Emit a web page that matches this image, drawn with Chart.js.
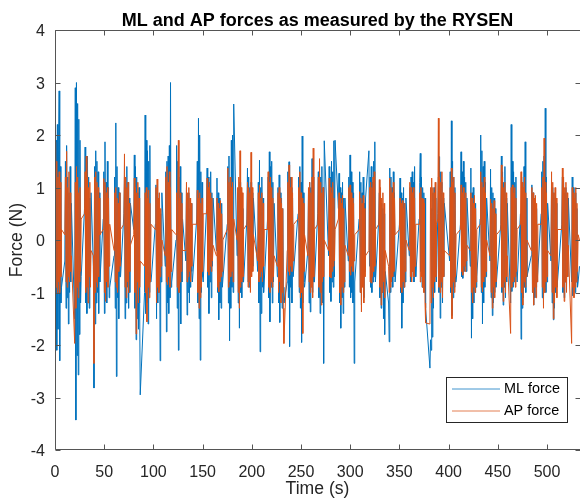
<!DOCTYPE html>
<html>
<head>
<meta charset="utf-8">
<script src="https://cdn.jsdelivr.net/npm/chart.js@4/dist/chart.umd.min.js"></script>
<style>
  html, body { margin: 0; padding: 0; background: #fff; }
  #wrap { width: 580px; height: 499px; }
</style>
</head>
<body>
<div id="wrap"><canvas id="c" width="580" height="499"></canvas></div>
<script>
// ---- Data ----
const chartTitle = 'ML and AP forces as measured by the RYSEN';
const xLabel = 'Time (s)';
const yLabel = 'Force (N)';
const seriesNames = ['ML force', 'AP force'];
const xTicks = [0, 50, 100, 150, 200, 250, 300, 350, 400, 450, 500];
const yTicks = [-4, -3, -2, -1, 0, 1, 2, 3, 4];

const time = [
0,0.6,1.2,1.8,2.4,3,3.6,4.2,4.8,5.4,6,6.6,
10,10.6,11.2,11.8,12.4,13,13.6,14.2,14.8,15.4,16,16.6,
20,20.6,21.2,21.8,22.4,23,23.6,24.2,24.8,25.4,26,26.6,
30,30.6,31.2,31.8,32.4,33,33.6,34.2,34.8,35.4,36,36.6,
39,39.6,40.2,40.8,41.4,42,42.6,43.2,43.8,44.4,45,45.6,
49,49.6,50.2,50.8,51.4,52,52.6,53.2,53.8,54.4,55,55.6,
60,60.6,61.2,61.8,62.4,63,63.6,64.2,64.8,65.4,66,66.6,
70,70.6,71.2,71.8,72.4,73,73.6,74.2,74.8,75.4,76,76.6,
80,80.6,81.2,81.8,82.4,83,83.6,84.2,84.8,85.4,86,86.6,
91,91.6,92.2,92.8,93.4,94,94.6,95.2,95.8,96.4,97,97.6,
102,102.6,103.2,103.8,104.4,105,105.6,106.2,106.8,107.4,108,108.6,
112,112.6,113.2,113.8,114.4,115,115.6,116.2,116.8,117.4,118,118.6,
123,123.6,124.2,124.8,125.4,126,126.6,127.2,127.8,128.4,129,129.6,
133,133.6,134.2,134.8,135.4,136,136.6,137.2,137.8,138.4,139,139.6,
144,144.6,145.2,145.8,146.4,147,147.6,148.2,148.8,149.4,150,150.6,
154,154.6,155.2,155.8,156.4,157,157.6,158.2,158.8,159.4,160,160.6,
164,164.6,165.2,165.8,166.4,167,167.6,168.2,168.8,169.4,170,170.6,
175,175.6,176.2,176.8,177.4,178,178.6,179.2,179.8,180.4,181,181.6,
185,185.6,186.2,186.8,187.4,188,188.6,189.2,189.8,190.4,191,191.6,
195,195.6,196.2,196.8,197.4,198,198.6,199.2,199.8,200.4,201,201.6,
206,206.6,207.2,207.8,208.4,209,209.6,210.2,210.8,211.4,212,212.6,
216,216.6,217.2,217.8,218.4,219,219.6,220.2,220.8,221.4,222,222.6,
226,226.6,227.2,227.8,228.4,229,229.6,230.2,230.8,231.4,232,232.6,
236,236.6,237.2,237.8,238.4,239,239.6,240.2,240.8,241.4,242,242.6,
247,247.6,248.2,248.8,249.4,250,250.6,251.2,251.8,252.4,253,253.6,
257,257.6,258.2,258.8,259.4,260,260.6,261.2,261.8,262.4,263,263.6,
267,267.6,268.2,268.8,269.4,270,270.6,271.2,271.8,272.4,273,273.6,
278,278.6,279.2,279.8,280.4,281,281.6,282.2,282.8,283.4,284,284.6,
288,288.6,289.2,289.8,290.4,291,291.6,292.2,292.8,293.4,294,294.6,
298,298.6,299.2,299.8,300.4,301,301.6,302.2,302.8,303.4,304,304.6,
309,309.6,310.2,310.8,311.4,312,312.6,313.2,313.8,314.4,315,315.6,
319,319.6,320.2,320.8,321.4,322,322.6,323.2,323.8,324.4,325,325.6,
329,329.6,330.2,330.8,331.4,332,332.6,333.2,333.8,334.4,335,335.6,
339,339.6,340.2,340.8,341.4,342,342.6,343.2,343.8,344.4,345,345.6,
350,350.6,351.2,351.8,352.4,353,353.6,354.2,354.8,355.4,356,356.6,
360,360.6,361.2,361.8,362.4,363,363.6,364.2,364.8,365.4,366,366.6,
370,370.6,371.2,371.8,372.4,373,373.6,374.2,374.8,375.4,376,376.6,
381,381.6,382.2,382.8,383.4,384,384.6,385.2,385.8,386.4,387,387.6,
389,389.6,390.2,390.8,391.4,392,392.6,393.2,393.8,394.4,395,395.6,
401,401.6,402.2,402.8,403.4,404,404.6,405.2,405.8,406.4,407,407.6,
412,412.6,413.2,413.8,414.4,415,415.6,416.2,416.8,417.4,418,418.6,
422,422.6,423.2,423.8,424.4,425,425.6,426.2,426.8,427.4,428,428.6,
432,432.6,433.2,433.8,434.4,435,435.6,436.2,436.8,437.4,438,438.6,
442,442.6,443.2,443.8,444.4,445,445.6,446.2,446.8,447.4,448,448.6,
453,453.6,454.2,454.8,455.4,456,456.6,457.2,457.8,458.4,459,459.6,
463,463.6,464.2,464.8,465.4,466,466.6,467.2,467.8,468.4,469,469.6,
473,473.6,474.2,474.8,475.4,476,476.6,477.2,477.8,478.4,479,479.6,
484,484.6,485.2,485.8,486.4,487,487.6,488.2,488.8,489.4,490,490.6,
494,494.6,495.2,495.8,496.4,497,497.6,498.2,498.8,499.4,500,500.6,
504,504.6,505.2,505.8,506.4,507,507.6,508.2,508.8,509.4,510,510.6,
515,515.6,516.2,516.8,517.4,518,518.6,519.2,519.8,520.4,521,521.6,
525,525.6,526.2,526.8,527.4,528,528.6,529.2,529.8,530.4,531,531.6,
533
];

const mlForce = [
0.5,-1.8,1.9,-2.1,2.2,-1.7,1.6,2.84,-2.3,1.4,-1.2,-0.9,
-0.4,1.5,-1.3,1.8,-1.1,1.2,-1.6,0.9,-1.0,1.4,-0.8,0.7,
-1.5,2.9,-3.43,3.0,-2.2,2.6,-2.57,2.3,-1.8,1.9,-1.2,-0.7,
0.6,1.77,-1.2,1.4,-1.4,1.6,-0.9,1.2,-1.3,0.8,-0.6,0.9,
-0.5,-2.82,1.4,-1.6,1.7,-1.2,1.5,-1.0,1.3,-1.4,0.9,-0.8,
0.4,1.3,-1.4,1.87,-1.0,1.1,-1.2,1.5,-0.8,1.0,-1.1,-0.9,
-0.3,1.2,-1.3,2.23,-2.6,1.4,-1.1,1.0,-1.5,0.9,-0.7,-0.7,
0.5,1.2,-1.5,1.0,-1.2,1.4,-0.9,1.1,-1.3,0.8,-1.0,0.7,
0.2,1.62,-1.3,1.4,-1.9,1.2,-1.5,0.9,-1.7,1.0,-1.2,-2.95,
-1.0,2.38,-1.4,1.9,-1.2,1.7,-1.6,1.5,-1.0,1.8,-0.8,-0.8,
0.3,1.05,-1.5,0.9,-1.2,0.8,-1.0,0.7,-2.3,0.5,-0.8,0.9,
-0.5,1.3,-1.75,1.5,-1.2,1.6,-1.4,1.8,-1.1,3.0,-0.9,-0.8,
0.0,1.8,-1.3,1.5,-2.1,1.2,-1.0,1.4,-1.6,0.9,-0.8,0.4,
-0.4,1.0,-1.43,0.8,-1.0,0.9,-1.2,0.6,-0.9,0.7,-0.6,-0.8,
0.4,1.5,-1.2,2.32,-1.5,2.0,-2.29,1.3,-1.0,1.1,-0.7,-0.8,
0.6,1.37,-0.9,1.2,-1.4,1.0,-0.8,1.3,-1.1,0.9,-0.5,0.8,
-0.2,1.18,-1.0,0.9,-1.52,0.8,-1.2,0.6,-1.3,0.7,-0.9,-0.9,
0.3,1.4,-1.2,1.6,-1.92,1.0,-1.3,1.9,-0.9,2.0,-1.0,2.59,
-0.3,0.9,-1.2,1.0,-1.68,1.1,-1.0,0.8,-1.1,0.6,-0.8,-0.8,
0.4,1.37,-0.8,1.2,-0.9,1.0,-0.7,1.1,-0.6,0.9,-0.5,0.8,
-0.6,1.1,-1.2,1.52,-2.13,1.0,-1.4,1.2,-0.9,0.8,-1.0,-0.8,
0.4,1.2,-1.1,1.68,-1.56,1.4,-0.9,1.5,-1.2,1.1,-0.8,0.7,
-0.7,1.0,-1.2,1.24,-1.57,0.9,-1.0,0.8,-1.3,0.6,-0.9,-1.2,
-0.8,1.3,-1.1,1.49,-2.03,1.2,-0.9,1.0,-1.2,0.8,-0.7,-0.7,
0.5,1.2,-1.0,1.4,-1.3,1.1,-1.95,1.98,-1.2,0.9,-0.8,-0.9,
-0.2,0.9,-1.2,1.1,-1.37,1.0,-0.9,1.55,-1.0,1.2,-0.8,-0.8,
0.5,1.3,-1.1,1.5,-1.4,1.2,-1.0,1.4,-1.2,1.0,-2.35,1.89,
-0.3,1.4,-1.0,1.2,-1.17,1.5,-0.8,1.3,-0.9,1.89,-0.7,1.9,
0.6,1.27,-1.2,1.0,-1.68,0.9,-1.1,1.1,-1.4,0.8,-0.9,0.8,
-0.4,1.2,-0.9,1.62,-1.1,1.3,-1.0,1.1,-1.2,0.9,-2.35,-0.8,
0.4,1.3,-1.0,1.1,-1.24,0.9,-0.8,1.2,-1.1,0.7,-0.6,0.8,
1.7,-0.5,1.2,-0.9,1.4,-1.0,1.1,-0.8,1.5,-0.7,1.87,-0.8,
0.4,0.9,-1.1,0.8,-1.3,0.7,-1.0,0.6,-1.5,0.5,-1.8,-0.6,
-1.2,-1.94,1.37,-1.0,1.2,-0.8,1.0,-0.9,1.3,-0.7,0.9,-0.8,
0.3,1.18,-1.0,0.9,-1.68,0.8,-1.2,1.0,-0.9,0.7,-0.8,0.8,
-0.3,1.0,-0.8,1.2,-0.7,1.3,-0.6,1.1,-0.8,1.4,-0.5,-0.7,
0.4,1.1,1.65,-0.6,1.2,-0.9,1.0,-0.7,0.9,-1.0,0.8,-1.3,
-2.44,-1.9,-2.1,0.6,-1.85,0.9,-1.3,1.0,-1.0,0.8,-0.6,-0.8,
0.5,1.2,-1.0,1.59,-1.49,1.3,-0.9,1.1,-1.2,0.8,-0.7,0.7,
-0.4,1.3,-1.0,2.27,-1.44,1.5,-1.1,1.2,-0.9,1.0,-0.8,-0.8,
0.3,1.68,-0.7,1.3,-0.73,1.5,-0.6,1.2,-0.5,1.1,-0.6,0.8,
-0.5,1.37,-1.87,0.9,-1.5,1.0,-1.2,0.8,-1.0,0.7,-0.9,-0.7,
0.4,2.0,-1.0,1.7,-1.6,1.4,-1.2,1.5,-0.9,1.1,-0.7,0.8,
-0.4,1.35,-1.1,1.0,-1.44,0.9,-1.2,0.8,-1.0,0.6,-0.9,-0.8,
0.3,1.6,-1.0,1.3,-1.24,1.1,-0.9,1.4,-1.1,0.8,-0.8,0.7,
-1.2,2.2,-0.98,1.5,-0.9,1.3,-0.8,1.1,-0.7,1.2,-0.6,-0.8,
0.5,-1.89,1.2,-1.3,1.0,-1.1,1.4,-0.9,1.87,-1.0,0.8,-0.7,
-0.3,1.05,-1.0,0.9,-1.24,0.8,-1.1,0.7,-0.9,0.6,-0.8,-0.8,
0.5,1.3,-1.1,1.5,-1.24,1.6,-0.9,2.51,-1.0,1.2,-0.8,0.7,
-0.4,1.1,-1.2,1.0,-1.52,0.9,-1.3,0.8,-1.0,0.7,-0.9,-0.8,
0.3,1.2,-1.0,1.1,-1.1,0.9,-0.8,1.0,-0.9,0.8,-0.7,0.8,
-0.8,1.2,-1.06,1.0,-0.9,0.8,-1.0,0.9,-0.8,0.6,-0.9,-0.8,
-0.5
];

const apForce = [
0.3,1.87,-0.9,1.5,-1.0,1.2,-0.8,1.3,-1.0,1.1,-0.7,0.2,
0.1,1.2,-0.8,1.69,-0.9,1.0,-0.7,1.3,-0.8,0.9,-0.6,-0.3,
-1.97,1.1,-1.3,1.4,-0.9,1.2,-1.1,0.9,-0.8,1.0,-0.6,0.4,
0.5,1.3,-1.0,1.6,-0.9,1.2,-1.2,1.0,-0.7,1.1,-0.9,-0.2,
-0.3,-2.35,1.2,-1.0,1.3,-0.8,1.1,-0.9,1.0,-0.7,0.8,0.1,
0.2,1.17,-1.0,1.1,-1.17,0.9,-0.8,1.0,-0.9,0.8,-0.5,0.3,
-0.2,0.9,-0.8,1.0,-0.9,0.8,-1.0,0.7,-0.6,0.9,-0.5,0.2,
0.3,1.64,-0.9,1.2,-1.1,1.0,-0.8,1.1,-1.0,0.7,-0.6,-0.1,
0.1,1.18,-1.0,1.0,-1.79,0.9,-0.8,1.1,-1.2,0.8,-0.9,-0.4,
-0.5,0.9,-1.0,1.0,-1.56,0.8,-0.9,0.95,-1.1,0.7,-0.8,0.3,
0.2,1.0,-1.2,1.16,-0.9,0.8,-1.0,0.9,-0.7,0.6,-0.5,0.0,
-0.3,1.2,-0.8,1.4,-0.85,1.1,-0.7,1.3,-0.9,1.0,-0.6,0.2,
0.1,0.9,-0.9,1.0,1.9,-1.0,0.8,-0.8,0.9,-0.6,0.7,-0.2,
-0.2,1.1,-0.8,0.9,-0.7,1.0,-0.6,0.8,-0.8,0.7,-0.5,0.3,
0.3,0.95,-1.0,0.8,-1.3,0.9,-1.1,0.7,-0.9,0.8,-0.6,0.5,
0.5,1.18,-0.6,1.0,-0.67,1.1,-0.5,0.9,-0.6,0.8,-0.4,-0.1,
-0.3,0.8,-0.9,0.7,-0.99,0.6,-0.8,0.75,-0.7,0.5,-0.6,0.0,
0.2,1.37,-0.9,1.1,-0.8,1.2,-0.7,1.0,-0.6,1.1,-0.8,0.4,
0.0,1.0,-1.0,1.2,-1.3,1.7,-0.9,1.0,-0.8,0.9,-0.7,0.2,
0.3,1.1,-0.9,1.0,-0.8,0.9,-1.0,1.67,-0.7,1.0,-0.6,0.1,
-0.4,0.9,-0.8,1.05,-0.7,0.8,-0.6,0.9,-0.8,0.7,-0.5,0.2,
0.2,1.3,-0.9,1.1,-1.0,1.2,-0.8,1.0,-0.9,0.8,-0.7,-0.3,
-0.5,0.9,-1.0,1.0,-0.8,0.8,-1.2,0.7,-1.0,0.6,-1.3,-1.97,
-0.2,1.1,-0.6,1.43,-0.67,1.0,-0.5,1.2,-0.6,0.9,-0.4,0.3,
0.4,1.0,-0.9,1.3,-1.1,0.9,-1.0,0.8,-1.78,0.7,-0.6,0.1,
-0.3,1.0,-0.8,1.1,-1.0,0.9,-0.9,1.2,-1.1,1.75,-0.7,0.2,
0.3,1.2,-0.9,1.55,-1.0,1.1,-1.24,0.9,-0.8,1.0,-0.7,0.0,
-0.2,1.18,-0.7,1.0,-0.72,0.9,-0.6,1.1,-0.5,0.8,-0.4,0.2,
0.4,0.9,-1.0,0.8,-1.24,0.7,-0.9,0.85,-1.0,0.6,-0.8,-0.1,
-0.3,1.0,-0.6,1.05,-0.67,0.9,-0.5,0.8,-0.6,0.7,-0.4,0.1,
0.2,0.92,-1.0,0.8,-1.37,0.7,-0.9,0.85,-1.2,0.6,-0.7,-0.3,
-0.2,1.0,-0.8,1.1,-0.82,1.0,-0.7,1.2,-0.6,1.3,-0.5,0.2,
0.3,1.15,-0.9,1.0,-1.24,0.8,-1.0,0.9,-0.8,0.7,-1.1,-0.2,
-0.5,-1.0,1.18,-0.9,1.0,-0.8,0.9,-0.7,1.1,-0.6,0.8,0.1,
0.2,0.8,-0.9,0.7,-1.0,0.75,-0.8,0.6,-0.9,0.7,-0.6,0.0,
-0.2,1.1,-0.7,1.0,-0.8,0.9,-0.6,1.0,-0.7,0.8,-0.5,0.3,
0.3,0.9,-0.8,1.0,-0.7,0.8,-0.9,0.78,-1.0,0.7,-1.2,-1.58,
-1.6,1.0,-1.2,1.18,-0.9,1.0,-1.1,0.9,-0.8,1.1,-0.7,0.3,
0.4,2.32,-0.9,1.2,-1.0,1.1,-0.8,1.3,-1.1,0.9,-0.7,-0.2,
-0.3,1.0,-0.9,1.37,-1.5,1.1,-0.8,1.2,-1.0,0.9,-0.7,0.1,
0.2,1.05,-0.6,0.9,-0.67,1.0,-0.5,0.8,-0.6,0.9,-0.4,-0.1,
-0.2,0.9,-1.0,0.8,-1.2,0.7,-0.9,0.85,-1.0,0.6,-0.8,0.2,
0.3,1.3,-0.9,1.1,-0.99,1.0,-0.8,1.2,-0.7,0.9,-0.6,0.0,
-0.3,0.78,-1.0,0.7,-1.3,0.6,-0.9,0.75,-1.1,0.5,-0.8,0.1,
0.2,1.43,-0.9,1.2,-1.17,1.0,-0.8,1.1,-1.0,0.9,-0.7,-0.3,
-1.78,1.0,-0.9,1.05,-0.8,0.9,-0.7,1.0,-0.9,0.8,-0.6,0.2,
0.3,1.3,-1.0,1.1,-1.24,1.0,-0.8,1.2,-0.9,0.9,-0.7,0.0,
-0.2,1.0,-1.0,0.9,-1.24,0.8,-0.9,0.85,-1.1,0.7,-0.8,0.3,
0.3,1.0,-0.9,1.2,-1.3,1.94,-1.0,1.1,-0.8,0.9,-0.7,-0.2,
-0.3,1.3,-1.0,1.1,-1.5,0.9,-1.2,1.0,-0.9,0.8,-1.1,0.2,
0.2,1.37,-0.9,1.2,-1.17,1.0,-0.8,1.1,-1.0,0.9,-0.7,-0.1,
-1.97,1.0,-0.9,0.9,-1.1,0.8,-0.9,1.0,-0.8,0.7,-0.6,0.1,
0.0
];

// ---- Styling ----
const ML_COLOR = '#0072BD';
const AP_COLOR = '#D95319';
const AXIS_COLOR = '#262626';
const FONT = "'Liberation Sans', Arial, Helvetica, sans-serif";

const toPoints = (ys) => time.map((t, i) => ({ x: t, y: ys[i] }));

// Axes box with inward ticks (MATLAB style)
const axesBox = {
  id: 'axesBox',
  afterDatasetsDraw(chart) {
    const { ctx, chartArea: a, scales } = chart;
    const L = Math.round(a.left) + 0.5, R = Math.round(a.right) + 0.5;
    const T = Math.round(a.top) + 0.5, B = Math.round(a.bottom) - 0.5;
    const tl = 5;
    ctx.save();
    ctx.strokeStyle = '#555555';
    ctx.lineWidth = 1;
    ctx.beginPath();
    ctx.moveTo(L, T); ctx.lineTo(R, T); ctx.lineTo(R, B); ctx.lineTo(L, B); ctx.closePath();
    xTicks.forEach(v => {
      const px = Math.round(scales.x.getPixelForValue(v)) + 0.5;
      ctx.moveTo(px, B); ctx.lineTo(px, B - tl);
      ctx.moveTo(px, T); ctx.lineTo(px, T + tl);
    });
    yTicks.forEach(v => {
      const py = Math.round(scales.y.getPixelForValue(v)) + 0.5;
      ctx.moveTo(L, py); ctx.lineTo(L + tl, py);
      ctx.moveTo(R, py); ctx.lineTo(R - tl, py);
    });
    ctx.stroke();
    ctx.restore();
  }
};

// Legend box in the lower right corner of the axes
const legendBox = {
  id: 'legendBox',
  afterDraw(chart) {
    const { ctx, chartArea: a } = chart;
    const w = 121, h = 45;
    const x0 = Math.round(a.right) - 13 - w, y0 = Math.round(a.bottom) - 28 - h;
    ctx.save();
    ctx.fillStyle = '#ffffff';
    ctx.fillRect(x0, y0, w, h);
    ctx.strokeStyle = AXIS_COLOR;
    ctx.lineWidth = 1;
    ctx.strokeRect(x0 + 0.5, y0 + 0.5, w, h);
    const rows = [12, 34];
    chart.data.datasets.slice().sort((p, q) => p.legendIndex - q.legendIndex).forEach((ds, i) => {
      const yy = y0 + rows[i];
      ctx.strokeStyle = ds.borderColor;
      ctx.lineWidth = 1;
      ctx.globalAlpha = 0.75;
      ctx.beginPath(); ctx.moveTo(x0 + 6, yy); ctx.lineTo(x0 + 54, yy); ctx.stroke();
      ctx.globalAlpha = 1;
      ctx.fillStyle = '#000000';
      ctx.font = '14.4px ' + FONT;
      ctx.textBaseline = 'middle';
      ctx.textAlign = 'left';
      ctx.fillText(ds.label, x0 + 58, yy + 0.5);
    });
    ctx.restore();
  }
};

new Chart(document.getElementById('c'), {
  type: 'line',
  data: {
    datasets: [
      { label: seriesNames[0], legendIndex: 0, data: toPoints(mlForce), borderColor: ML_COLOR, borderWidth: 1,
        pointRadius: 0, tension: 0, fill: false, order: 1 },
      { label: seriesNames[1], legendIndex: 1, data: toPoints(apForce), borderColor: AP_COLOR, borderWidth: 1,
        pointRadius: 0, tension: 0, fill: false, order: 0 }
    ]
  },
  options: {
    responsive: false,
    animation: false,
    devicePixelRatio: 1,
    parsing: false,
    normalized: true,
    events: [],
    layout: { padding: { left: 0, right: 0, top: 0, bottom: 0 } },
    scales: {
      x: {
        type: 'linear', min: 0, max: 533.5,
        afterBuildTicks: s => { s.ticks = xTicks.map(v => ({ value: v })); },
        afterFit: s => { s.height = 49; },
        grid: { display: false, drawTicks: false },
        border: { display: false },
        ticks: { color: AXIS_COLOR, font: { family: FONT, size: 16 }, padding: 13, maxRotation: 0, autoSkip: false },
        title: { display: true, text: xLabel, color: AXIS_COLOR, font: { family: FONT, size: 17.6 }, padding: { top: 0, bottom: -1 } }
      },
      y: {
        type: 'linear', min: -4, max: 4,
        afterBuildTicks: s => { s.ticks = yTicks.map(v => ({ value: v })); },
        afterFit: s => { s.width = 55; },
        grid: { display: false, drawTicks: false },
        border: { display: false },
        ticks: { color: AXIS_COLOR, font: { family: FONT, size: 16 }, padding: 10, labelOffset: 2, autoSkip: false },
        title: { display: true, text: yLabel, color: AXIS_COLOR, font: { family: FONT, size: 17.6 }, padding: { top: 7, bottom: 0 } }
      }
    },
    plugins: {
      legend: { display: false },
      tooltip: { enabled: false },
      title: {
        display: true, text: chartTitle, fullSize: false, color: '#000000',
        font: { family: FONT, size: 18, weight: 'bold', lineHeight: 1.2 },
        padding: { top: 10, bottom: -1.6 }
      }
    }
  },
  plugins: [axesBox, legendBox]
});
</script>
</body>
</html>
